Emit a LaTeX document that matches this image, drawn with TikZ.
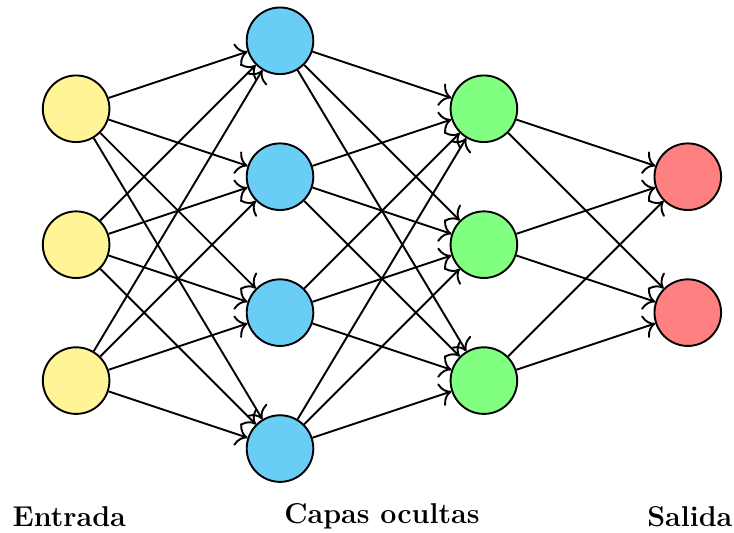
\documentclass[tikz,border=0pt]{standalone}
\usepackage{amsmath}
\usepackage{tikz}
\usepackage{xcolor}
\usetikzlibrary{arrows.meta}

\definecolor{entradacol}{RGB}{255,245,150}
\definecolor{ocultacol}{RGB}{105,205,245}
\definecolor{ocultbcol}{RGB}{128,255,128}
\definecolor{salidacol}{RGB}{255,128,128}

\begin{document}
\begin{tikzpicture}[neuron/.style={circle,draw,thick,minimum size=0.98cm,inner sep=0pt},
  conexion/.style={-{To[scale=1.4]},thick}]
\useasboundingbox (-1.12,-4.24) rectangle (9.68,3.6);
\foreach \i/\y in {1/2,2/0,3/-2}
  \node [neuron,fill=entradacol] (e\i) at (0,\y) {};
\foreach \i/\y in {1/3,2/1,3/-1,4/-3}
  \node [neuron,fill=ocultacol] (a\i) at (3,\y) {};
\foreach \i/\y in {1/2,2/0,3/-2}
  \node [neuron,fill=ocultbcol] (b\i) at (6,\y) {};
\foreach \i/\y in {1/1,2/-1}
  \node [neuron,fill=salidacol] (s\i) at (9,\y) {};
\foreach \i in {1,2,3}
  \foreach \j in {1,...,4}
    \draw [conexion] (e\i) -- (a\j);
\foreach \i in {1,...,4}
  \foreach \j in {1,2,3}
    \draw [conexion] (a\i) -- (b\j);
\foreach \i in {1,2,3}
  \foreach \j in {1,2}
    \draw [conexion] (b\i) -- (s\j);
\node (entrada) at (-0.1,-4) {\large\textbf{Entrada}};
\node (capas) at (4.5,-4) {\large\textbf{Capas ocultas}};
\node (salida) at (9.03,-4) {\large\textbf{Salida}};
\end{tikzpicture}
\end{document}
